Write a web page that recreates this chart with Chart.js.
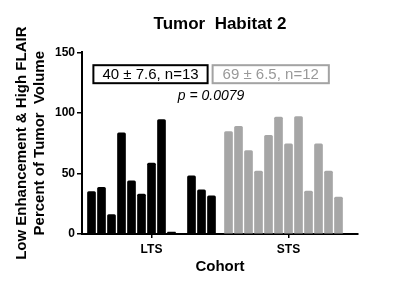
<!DOCTYPE html>
<html>
<head>
<meta charset="utf-8">
<script src="https://cdn.jsdelivr.net/npm/chart.js@4/dist/chart.umd.min.js"></script>
<style>
  body { margin: 0; background: #fff; }
  canvas { display: block; }
</style>
</head>
<body>
<canvas id="habitat" width="400" height="289"></canvas>
<script>
// values (percent of tumor volume, one bar per patient)
var groups = ['LTS', 'STS'];
var ltsValues = [35, 38.5, 16, 83.5, 44, 33, 58.5, 94.5, 1.5, 0, 48, 36.5, 31.5];
var stsValues = [84.5, 89, 69, 52, 81.5, 96.5, 74.5, 97, 35.5, 74.5, 52, 30.5];
var yTicks = [0, 50, 100, 150];
var statLabels = ['40 \u00b1 7.6, n=13', '69 \u00b1 6.5, n=12'];
var pLabel = 'p = 0.0079';

// each group takes 13 slots, the second one starts a bit after the first
var slots = 13;
var stsStart = 13.7;
var groupCenters = [(slots - 1) / 2, stsStart + (slots - 1) / 2];

var FONT = 'Arial, "Liberation Sans", Helvetica, sans-serif';
Chart.defaults.font.family = FONT;
Chart.defaults.color = '#000';

function toPoints(values, start) {
  var pts = [];
  for (var i = 0; i < values.length; i++) {
    pts.push({x: start + i, y: values[i]});
  }
  return pts;
}

// stat boxes and p value drawn above the bars
var statsPlugin = {
  id: 'stats',
  afterDraw: function(chart) {
    var ctx = chart.ctx;
    var x = chart.scales.x, y = chart.scales.y;
    ctx.save();
    ctx.font = '15px ' + FONT;
    ctx.textAlign = 'center';
    ctx.textBaseline = 'middle';
    var boxY = y.getPixelForValue(132);
    var boxH = 18;
    var w1 = ctx.measureText(statLabels[0]).width + 18;
    var w2 = ctx.measureText(statLabels[1]).width + 20;
    var c1 = x.getPixelForValue(groupCenters[0]) - 1;
    var l1 = c1 - w1 / 2;
    var l2 = l1 + w1 + 5;

    ctx.lineWidth = 2;
    ctx.strokeStyle = '#000';
    ctx.strokeRect(l1, boxY - boxH / 2, w1, boxH);
    ctx.fillStyle = '#000';
    ctx.fillText(statLabels[0], c1, boxY + 1);

    ctx.strokeStyle = '#a3a3a3';
    ctx.strokeRect(l2, boxY - boxH / 2, w2, boxH);
    ctx.fillStyle = '#999';
    ctx.fillText(statLabels[1], l2 + w2 / 2, boxY + 1);

    ctx.font = 'italic 14px ' + FONT;
    ctx.fillStyle = '#000';
    ctx.fillText(pLabel, (l1 + l2 + w2) / 2, y.getPixelForValue(113.5));
    ctx.restore();
  }
};

var config1 = {
  type: 'bar',
  data: {
    datasets: [{
      label: groups[0],
      data: toPoints(ltsValues, 0),
      backgroundColor: '#000',
      barThickness: 8,
      borderRadius: { topLeft: 1.5, topRight: 1.5 }
    }, {
      label: groups[1],
      data: toPoints(stsValues, stsStart),
      backgroundColor: '#a6a6a6',
      barThickness: 8,
      borderRadius: { topLeft: 1.5, topRight: 1.5 }
    }]
  },
  options: {
    responsive: false,
    animation: false,
    devicePixelRatio: 1,
    grouped: false,
    layout: { padding: { left: 0, right: 42, top: 0, bottom: 0 } },
    plugins: {
      legend: { display: false },
      tooltip: { enabled: false },
      title: {
        display: true,
        text: 'Tumor  Habitat 2',
        fullSize: false,
        color: '#000',
        font: { size: 17, weight: 'bold' },
        padding: { top: 14, bottom: 18 }
      }
    },
    scales: {
      x: {
        type: 'linear',
        offset: false,
        bounds: 'data',
        min: -0.95,
        max: 26.65,
        afterFit: function(scale) { scale.height = 55; },
        afterBuildTicks: function(scale) {
          scale.ticks = groupCenters.map(function(v) { return {value: v}; });
        },
        ticks: {
          padding: 4,
          color: '#000',
          font: { size: 12, weight: 'bold' },
          callback: function(value) {
            return groups[groupCenters.indexOf(value)];
          }
        },
        grid: {
          offset: false,
          drawOnChartArea: false,
          drawTicks: true,
          tickLength: 4,
          color: '#000',
          lineWidth: 1.5
        },
        border: { color: '#000', width: 2 },
        title: {
          display: true,
          text: 'Cohort',
          color: '#000',
          font: { size: 15, weight: 'bold' },
          padding: { top: 0, bottom: 13 }
        }
      },
      y: {
        min: 0,
        max: 150,
        afterFit: function(scale) { scale.width = 82; },
        afterBuildTicks: function(scale) {
          scale.ticks = yTicks.map(function(v) { return {value: v}; });
        },
        ticks: {
          padding: 2,
          color: '#000',
          font: { size: 12, weight: 'bold' }
        },
        grid: {
          drawOnChartArea: false,
          drawTicks: true,
          tickLength: 5,
          color: '#000',
          lineWidth: 1.5
        },
        border: { color: '#000', width: 2 },
        title: {
          display: true,
          text: ['Low Enhancement & High FLAIR', 'Percent of Tumor  Volume'],
          color: '#000',
          font: { size: 15, weight: 'bold', lineHeight: 1.2 },
          padding: { top: 13, bottom: 0 }
        }
      }
    }
  },
  plugins: [statsPlugin]
};

window.onload = function() {
  var ctx1 = document.getElementById('habitat').getContext('2d');
  window.myBar = new Chart(ctx1, config1);
};
</script>
</body>
</html>
